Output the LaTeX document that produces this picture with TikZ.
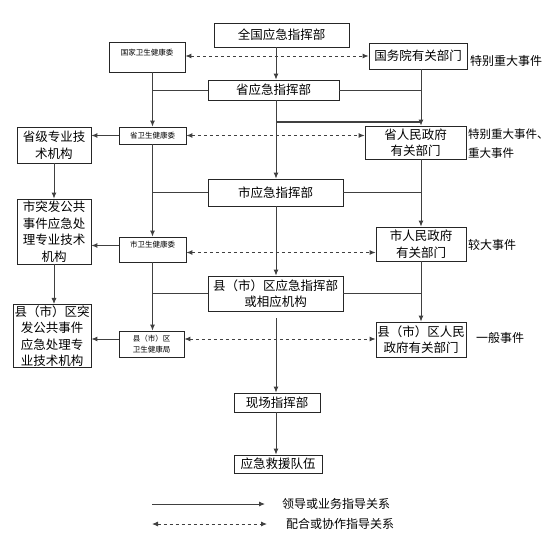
\documentclass[tikz,border=0pt]{standalone}
\usepackage{fontspec}
\setmainfont{Noto Sans CJK SC}
\usetikzlibrary{arrows.meta}

\begin{document}
\begin{tikzpicture}[x=1pt,y=-1pt,
    box/.style={draw=black!85,line width=0.8pt,inner sep=1pt,align=center,font=\fontsize{12.5}{16.5}\selectfont},
    wjw/.style={box,font=\fontsize{7.5}{11}\selectfont},
    lbl/.style={inner sep=0pt,align=left,font=\fontsize{12}{19}\selectfont},
    ln/.style={draw=black!75,line width=0.9pt},
    arr/.style={ln,-{Latex[length=6pt,width=5pt]}},
    dbl/.style={ln,dash pattern=on 3.5pt off 2.5pt,{Latex[length=6pt,width=5pt]}-{Latex[length=6pt,width=5pt]}}]
    \useasboundingbox (0,0) rectangle (554,544);

    % boxes
    \node[box,minimum width=135,minimum height=24] (quanguo) at (281.5,35) {全国应急指挥部};
    \node[wjw,minimum width=76,text height=12pt,text depth=16pt] (gjwjw) at (147,57) {国家卫生健康委};
    \node[box,minimum width=98,minimum height=26] (gwy) at (418,56) {国务院有关部门};
    \node[box,minimum width=131,minimum height=20] (shengyj) at (273.5,90) {省应急指挥部};
    \node[box,minimum width=74,minimum height=36] (shengzy) at (54,145) {省级专业技\\术机构};
    \node[wjw,minimum width=67,minimum height=17] (shengwjw) at (152.5,135.5) {省卫生健康委};
    \node[box,minimum width=101,minimum height=33] (shengrm) at (415.5,142.5) {省人民政府\\有关部门};
    \node[box,minimum width=135,minimum height=27] (shiyj) at (275.5,192.5) {市应急指挥部};
    \node[box,minimum width=74,minimum height=65] (shitf) at (54,231.5) {市突发公共\\事件应急处\\理专业技术\\机构};
    \node[wjw,minimum width=67,text height=9.5pt,text depth=13.5pt] (shiwjw) at (152.5,249.5) {市卫生健康委};
    \node[box,minimum width=90,minimum height=34] (shirm) at (421,244) {市人民政府\\有关部门};
    \node[box,minimum width=135,minimum height=35] (xianyj) at (275.5,293.5) {县（市）区应急指挥部\\或相应机构};
    \node[box,minimum width=78,minimum height=62] (xiantf) at (52,336) {县（市）区突\\发公共事件\\应急处理专\\业技术机构};
    \node[wjw,minimum width=65,minimum height=26] (xianwjw) at (151.5,344) {县（市）区\\卫生健康局};
    \node[box,minimum width=90,minimum height=35] (xianrm) at (421,339.5) {县（市）区人民\\政府有关部门};
    \node[box,minimum width=86,minimum height=19] (xianchang) at (277,402.5) {现场指挥部};
    \node[box,minimum width=88,minimum height=18] (jiuyuan) at (278,464) {应急救援队伍};

    % event levels
    \node[lbl,anchor=west] (t1) at (470,61) {特别重大事件};
    \node[lbl,anchor=west,font=\fontsize{11.5}{19}\selectfont] (t2) at (468,144) {特别重大事件、\\重大事件};
    \node[lbl,anchor=west] (t3) at (468,245) {较大事件};
    \node[lbl,anchor=west] (t4) at (476,338) {一般事件};

    % centre column
    \coordinate (mid) at (276,0);
    \coordinate (j) at (276,122);
    \draw[arr] (quanguo.south -| mid) -- (shengyj.north -| mid);
    \draw[arr] (shengyj.south -| mid) -- (shiyj.north -| mid);
    \draw[arr] (shiyj.south -| mid) -- (xianyj.north -| mid);
    \draw[arr] ([yshift=-7pt]xianyj.south -| mid) -- (xianchang.north -| mid);
    \draw[arr] (xianchang.south -| mid) -- (jiuyuan.north -| mid);
    \draw[ln,line width=1.2pt] (j) -- (j -| shirm);

    % health commissions and departments
    \draw[arr] (gjwjw.south -| shengwjw) -- (shengwjw.north);
    \draw[arr] (shengwjw.south) -- (shiwjw.north);
    \draw[arr] (shiwjw.south) -- (shiwjw.south |- xianwjw.north);
    \draw[arr] (gwy.south -| shirm) -- (shengrm.north -| shirm);
    \draw[arr] (shengrm.south -| shirm) -- (shirm.north);
    \draw[arr] (shirm.south) -- (xianrm.north);
    \foreach \c in {shengyj,shiyj,xianyj}{
        \draw[ln] (\c.west) -- (\c.west -| shengwjw);
        \draw[ln] (\c.east) -- (\c.east -| shirm);
    }

    % technical institutions
    \draw[arr] (shengwjw.west) -- (shengwjw.west -| shengzy.east);
    \draw[arr] ([yshift=4pt]shiwjw.west) -- ([yshift=4pt]shiwjw.west -| shitf.east);
    \draw[arr] ([yshift=5pt]xianwjw.west) -- ([yshift=5pt]xianwjw.west -| xiantf.east);
    \draw[arr] (shengzy.south) -- (shitf.north);
    \draw[arr] (shitf.south) -- (shitf.south |- xiantf.north);

    % cooperation
    \draw[dbl] (gjwjw.east |- gwy) -- (gwy.west);
    \draw[dbl] (shengwjw.east) -- (shengwjw.east -| shengrm.west);
    \draw[dbl] ([yshift=-3pt]shiwjw.east) -- ([yshift=-3pt]shiwjw.east -| shirm.west);
    \draw[dbl] ([yshift=5pt]xianwjw.east) -- ([yshift=5pt]xianwjw.east -| xianrm.west);

    % legend
    \coordinate (l1a) at (152,504); \coordinate (l1b) at (265,504);
    \coordinate (l2a) at (152,524); \coordinate (l2b) at (267,524);
    \draw[arr] (l1a) -- (l1b);
    \draw[dbl] (l2a) -- (l2b);
    \node[lbl,anchor=west] (lt1) at (282,504) {领导或业务指导关系};
    \node[lbl,anchor=west] (lt2) at (286,524) {配合或协作指导关系};
\end{tikzpicture}
\end{document}
